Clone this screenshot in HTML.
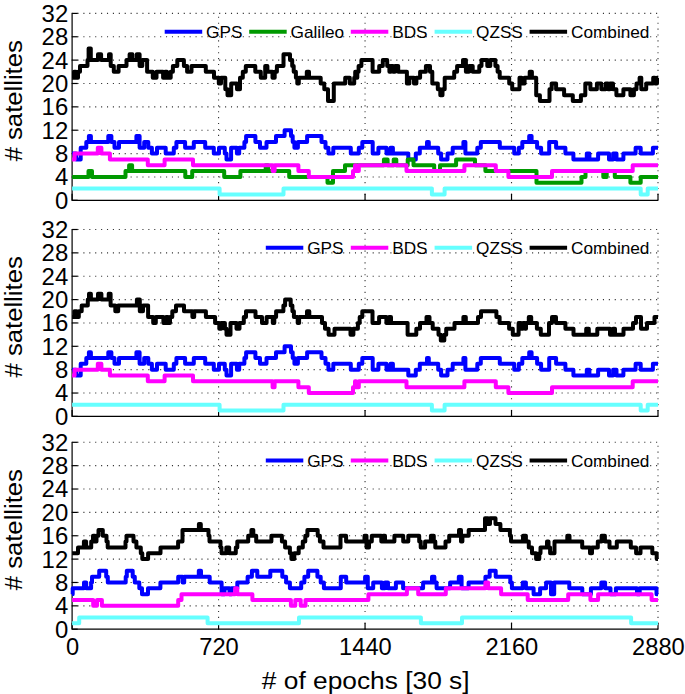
<!DOCTYPE html><html><head><meta charset="utf-8"><style>html,body{margin:0;padding:0;background:#fff;}body{width:685px;height:694px;overflow:hidden;}svg{display:block;}text{font-family:"Liberation Sans", sans-serif;fill:#000;}</style></head><body><svg width="685" height="694" viewBox="0 0 685 694"><g><line x1="71.55" y1="176.94" x2="658" y2="176.94" stroke="#333" stroke-width="1.1" stroke-dasharray="1.1 4.804"/><line x1="71.55" y1="153.58" x2="658" y2="153.58" stroke="#333" stroke-width="1.1" stroke-dasharray="1.1 4.804"/><line x1="71.55" y1="130.21" x2="658" y2="130.21" stroke="#333" stroke-width="1.1" stroke-dasharray="1.1 4.804"/><line x1="71.55" y1="106.85" x2="658" y2="106.85" stroke="#333" stroke-width="1.1" stroke-dasharray="1.1 4.804"/><line x1="71.55" y1="83.49" x2="658" y2="83.49" stroke="#333" stroke-width="1.1" stroke-dasharray="1.1 4.804"/><line x1="71.55" y1="60.12" x2="658" y2="60.12" stroke="#333" stroke-width="1.1" stroke-dasharray="1.1 4.804"/><line x1="71.55" y1="36.76" x2="658" y2="36.76" stroke="#333" stroke-width="1.1" stroke-dasharray="1.1 4.804"/><line x1="71.55" y1="13.4" x2="658" y2="13.4" stroke="#333" stroke-width="1.1" stroke-dasharray="1.1 4.804"/><line x1="218.57" y1="200.85" x2="218.57" y2="13.4" stroke="#333" stroke-width="1.1" stroke-dasharray="1.1 4.804"/><line x1="365.05" y1="200.85" x2="365.05" y2="13.4" stroke="#333" stroke-width="1.1" stroke-dasharray="1.1 4.804"/><line x1="511.52" y1="200.85" x2="511.52" y2="13.4" stroke="#333" stroke-width="1.1" stroke-dasharray="1.1 4.804"/><line x1="658" y1="200.85" x2="658" y2="13.4" stroke="#333" stroke-width="1.1" stroke-dasharray="1.1 4.804"/></g><path d="M72.1 13.4 V200.3 H658" fill="none" stroke="#000" stroke-width="1.2"/><line x1="72.1" y1="200.3" x2="77.7" y2="200.3" stroke="#000" stroke-width="1.2"/><line x1="72.1" y1="176.94" x2="77.7" y2="176.94" stroke="#000" stroke-width="1.2"/><line x1="72.1" y1="153.58" x2="77.7" y2="153.58" stroke="#000" stroke-width="1.2"/><line x1="72.1" y1="130.21" x2="77.7" y2="130.21" stroke="#000" stroke-width="1.2"/><line x1="72.1" y1="106.85" x2="77.7" y2="106.85" stroke="#000" stroke-width="1.2"/><line x1="72.1" y1="83.49" x2="77.7" y2="83.49" stroke="#000" stroke-width="1.2"/><line x1="72.1" y1="60.12" x2="77.7" y2="60.12" stroke="#000" stroke-width="1.2"/><line x1="72.1" y1="36.76" x2="77.7" y2="36.76" stroke="#000" stroke-width="1.2"/><line x1="72.1" y1="13.4" x2="77.7" y2="13.4" stroke="#000" stroke-width="1.2"/><line x1="72.1" y1="200.3" x2="72.1" y2="193.8" stroke="#000" stroke-width="1.2"/><line x1="218.57" y1="200.3" x2="218.57" y2="193.8" stroke="#000" stroke-width="1.2"/><line x1="365.05" y1="200.3" x2="365.05" y2="193.8" stroke="#000" stroke-width="1.2"/><line x1="511.52" y1="200.3" x2="511.52" y2="193.8" stroke="#000" stroke-width="1.2"/><line x1="658" y1="200.3" x2="658" y2="193.8" stroke="#000" stroke-width="1.2"/><path d="M72.1 153.58H76.1V159.42H80.7V147.73H86.3V141.89H88.9V136.05H90.9V141.89H108.3V136.05H111.4V141.89H114.5V147.73H119.0V141.89H136.4V136.05H139.6V147.73H144.2V141.89H148.3V147.73H151.9V153.58H157.0V147.73H165.7V153.58H173.8V147.73H176.4V141.89H185.1V147.73H193.8V141.89H205.2V147.73H213.8V153.58H219.0V147.73H224.8V153.58H226.5V159.42H231.1V147.73H236.9V153.58H239.2V147.73H244.4V141.89H246.1V136.05H255.4V141.89H260.0V147.73H266.5V141.89H276.0V136.05H284.6V130.21H291.0V136.05H292.7V141.89H294.4V147.73H297.9V141.89H307.1V136.05H321.5V141.89H325.5V147.73H328.4V153.58H333.3V147.73H350.8V153.58H358.8V147.73H362.3V141.89H372.7V153.58H378.4V147.73H386.5V153.58H390.5V147.73H392.9V153.58H408.3V159.42H415.8V153.58H419.8V147.73H427.0V141.89H428.8V147.73H438.2V153.58H441.1V159.42H447.5V153.58H452.7V147.73H463.4V141.89H465.4V153.58H477.3V147.73H480.8V141.89H499.8V147.73H514.2V153.58H518.8V147.73H522.3V141.89H529.2V136.05H531.6V141.89H537.1V147.73H541.1V153.58H549.2V141.89H556.1V147.73H565.4V153.58H573.4V159.42H586.8V153.58H589.4V159.42H598.1V153.58H609.0V159.42H613.1V153.58H616.5V159.42H623.4V153.58H635.6V147.73H640.7V153.58H652.9V147.73H658.0" fill="none" stroke="#0000ff" stroke-width="4" stroke-linejoin="round" stroke-linecap="butt"/><path d="M72.1 176.94H88.5V171.10H92.0V176.94H125.5V171.10H129.1V165.26H132.1V171.10H185.3V176.94H192.2V171.10H224.2V176.94H240.4V171.10H265.7V165.26H268.0V171.10H289.2V176.94H327.5V182.78H333.0V171.10H345.0V165.26H383.9V159.42H387.6V165.26H393.7V159.42H396.3V165.26H407.7V159.42H413.5V165.26H434.2V171.10H440.0V165.26H456.1V159.42H475.0V165.26H485.4V171.10H536.5V182.78H581.5V176.94H585.5V171.10H603.3V176.94H606.7V171.10H614.8V176.94H630.4V182.78H640.7V176.94H658.0" fill="none" stroke="#009900" stroke-width="4" stroke-linejoin="round" stroke-linecap="butt"/><path d="M72.1 159.42H74.6V153.58H97.8V147.73H101.4V153.58H109.9V159.42H147.8V165.26H164.6V159.42H193.0V165.26H272.6V171.10H274.6V165.26H298.4V171.10H308.8V176.94H353.0V171.10H355.0V165.26H356.0V171.10H358.8V165.26H406.5V171.10H464.4V165.26H495.8V171.10H508.4V176.94H552.0V171.10H632.7V165.26H658.0" fill="none" stroke="#ff00ff" stroke-width="4" stroke-linejoin="round" stroke-linecap="butt"/><path d="M72.1 188.62H219.6V194.46H283.5V188.62H431.9V194.46H444.6V188.62H640.7V194.46H647.7V188.62H658.0" fill="none" stroke="#66ffff" stroke-width="4" stroke-linejoin="round" stroke-linecap="butt"/><path d="M72.1 77.65H74.0V71.81H76.0V77.65H78.0V71.81H80.0V65.97H87.5V60.12H88.6V48.44H90.8V60.12H98.0V54.28H101.1V60.12H109.0V54.28H110.7V65.97H113.8V71.81H118.6V65.97H126.5V60.12H129.6V54.28H132.4V60.12H136.8V54.28H139.6V65.97H142.3V60.12H147.1V71.81H152.8V77.65H156.5V71.81H163.1V77.65H165.0V71.81H167.0V77.65H170.7V71.81H172.9V65.97H177.3V60.12H183.9V65.97H187.1V71.81H191.5V65.97H205.8V71.81H214.0V77.65H218.8V83.49H221.0V77.65H225.3V89.33H227.5V95.17H231.2V83.49H237.0V89.33H240.0V77.65H242.8V71.81H245.8V65.97H255.3V71.81H260.8V77.65H265.2V65.97H267.4V71.81H272.5V77.65H274.7V71.81H276.9V65.97H283.5V54.28H290.0V60.12H292.2V65.97H293.7V71.81H295.9V77.65H297.3V83.49H298.8V77.65H306.8V71.81H309.0V77.65H320.7V83.49H324.3V89.33H328.0V101.01H333.8V83.49H345.2V77.65H349.8V83.49H354.2V77.65H355.2V71.81H356.2V77.65H357.3V71.81H358.6V65.97H361.4V60.12H372.6V71.81H379.2V65.97H382.8V60.12H387.2V65.97H389.4V71.81H391.0V65.97H393.0V71.81H395.0V65.97H398.2V71.81H406.9V83.49H409.4V77.65H414.0V83.49H416.4V77.65H420.1V71.81H425.9V65.97H430.0V71.81H432.3V83.49H437.8V89.33H440.3V95.17H442.5V89.33H444.7V77.65H454.2V71.81H457.1V65.97H463.0V60.12H465.9V71.81H469.0V65.97H472.7V71.81H479.3V65.97H481.5V60.12H487.3V65.97H490.3V60.12H495.4V65.97H497.6V71.81H499.7V77.65H509.2V83.49H512.2V89.33H519.5V77.65H521.6V83.49H524.6V77.65H529.7V71.81H531.9V77.65H536.2V95.17H539.9V101.01H549.5V89.33H551.7V83.49H556.1V89.33H564.1V95.17H572.8V101.01H580.9V95.17H585.3V83.49H590.4V89.33H596.9V83.49H601.3V89.33H605.7V83.49H608.0V89.33H610.0V83.49H613.0V89.33H616.4V95.17H623.4V89.33H630.4V95.17H633.9V89.33H636.5V83.49H639.6V77.65H641.3V89.33H646.2V83.49H653.2V77.65H655.0V83.49H657.0V77.65H658.0" fill="none" stroke="#000000" stroke-width="4" stroke-linejoin="round" stroke-linecap="butt"/><text transform="translate(68.2 208.75) scale(1.04 1)" font-size="23" text-anchor="end">0</text><text transform="translate(68.2 185.39) scale(1.04 1)" font-size="23" text-anchor="end">4</text><text transform="translate(68.2 162.03) scale(1.04 1)" font-size="23" text-anchor="end">8</text><text transform="translate(68.2 138.66) scale(1.04 1)" font-size="23" text-anchor="end">12</text><text transform="translate(68.2 115.3) scale(1.04 1)" font-size="23" text-anchor="end">16</text><text transform="translate(68.2 91.94) scale(1.04 1)" font-size="23" text-anchor="end">20</text><text transform="translate(68.2 68.58) scale(1.04 1)" font-size="23" text-anchor="end">24</text><text transform="translate(68.2 45.21) scale(1.04 1)" font-size="23" text-anchor="end">28</text><text transform="translate(68.2 21.85) scale(1.04 1)" font-size="23" text-anchor="end">32</text><text transform="translate(22.4 100.75) rotate(-90) scale(1.035 1)" font-size="24.8" text-anchor="middle"># satellites</text><line x1="164.7" y1="31.7" x2="202.2" y2="31.7" stroke="#0000ff" stroke-width="4"/><text transform="translate(206.1 37.6) scale(1.05 1)" font-size="16.4">GPS</text><line x1="249.2" y1="31.7" x2="286.7" y2="31.7" stroke="#009900" stroke-width="4"/><text transform="translate(290.6 37.6) scale(1.05 1)" font-size="16.4">Galileo</text><line x1="350.8" y1="31.7" x2="388.3" y2="31.7" stroke="#ff00ff" stroke-width="4"/><text transform="translate(392.2 37.6) scale(1.05 1)" font-size="16.4">BDS</text><line x1="434.6" y1="31.7" x2="472.1" y2="31.7" stroke="#66ffff" stroke-width="4"/><text transform="translate(476 37.6) scale(1.05 1)" font-size="16.4">QZSS</text><line x1="529.6" y1="31.7" x2="567.1" y2="31.7" stroke="#000000" stroke-width="4"/><text transform="translate(571 37.6) scale(1.05 1)" font-size="16.4">Combined</text><g><line x1="71.55" y1="393.04" x2="658" y2="393.04" stroke="#333" stroke-width="1.1" stroke-dasharray="1.1 4.804"/><line x1="71.55" y1="369.67" x2="658" y2="369.67" stroke="#333" stroke-width="1.1" stroke-dasharray="1.1 4.804"/><line x1="71.55" y1="346.31" x2="658" y2="346.31" stroke="#333" stroke-width="1.1" stroke-dasharray="1.1 4.804"/><line x1="71.55" y1="322.95" x2="658" y2="322.95" stroke="#333" stroke-width="1.1" stroke-dasharray="1.1 4.804"/><line x1="71.55" y1="299.59" x2="658" y2="299.59" stroke="#333" stroke-width="1.1" stroke-dasharray="1.1 4.804"/><line x1="71.55" y1="276.23" x2="658" y2="276.23" stroke="#333" stroke-width="1.1" stroke-dasharray="1.1 4.804"/><line x1="71.55" y1="252.86" x2="658" y2="252.86" stroke="#333" stroke-width="1.1" stroke-dasharray="1.1 4.804"/><line x1="71.55" y1="229.5" x2="658" y2="229.5" stroke="#333" stroke-width="1.1" stroke-dasharray="1.1 4.804"/><line x1="218.57" y1="416.95" x2="218.57" y2="229.5" stroke="#333" stroke-width="1.1" stroke-dasharray="1.1 4.804"/><line x1="365.05" y1="416.95" x2="365.05" y2="229.5" stroke="#333" stroke-width="1.1" stroke-dasharray="1.1 4.804"/><line x1="511.52" y1="416.95" x2="511.52" y2="229.5" stroke="#333" stroke-width="1.1" stroke-dasharray="1.1 4.804"/><line x1="658" y1="416.95" x2="658" y2="229.5" stroke="#333" stroke-width="1.1" stroke-dasharray="1.1 4.804"/></g><path d="M72.1 229.5 V416.4 H658" fill="none" stroke="#000" stroke-width="1.2"/><line x1="72.1" y1="416.4" x2="77.7" y2="416.4" stroke="#000" stroke-width="1.2"/><line x1="72.1" y1="393.04" x2="77.7" y2="393.04" stroke="#000" stroke-width="1.2"/><line x1="72.1" y1="369.67" x2="77.7" y2="369.67" stroke="#000" stroke-width="1.2"/><line x1="72.1" y1="346.31" x2="77.7" y2="346.31" stroke="#000" stroke-width="1.2"/><line x1="72.1" y1="322.95" x2="77.7" y2="322.95" stroke="#000" stroke-width="1.2"/><line x1="72.1" y1="299.59" x2="77.7" y2="299.59" stroke="#000" stroke-width="1.2"/><line x1="72.1" y1="276.23" x2="77.7" y2="276.23" stroke="#000" stroke-width="1.2"/><line x1="72.1" y1="252.86" x2="77.7" y2="252.86" stroke="#000" stroke-width="1.2"/><line x1="72.1" y1="229.5" x2="77.7" y2="229.5" stroke="#000" stroke-width="1.2"/><line x1="72.1" y1="416.4" x2="72.1" y2="409.9" stroke="#000" stroke-width="1.2"/><line x1="218.57" y1="416.4" x2="218.57" y2="409.9" stroke="#000" stroke-width="1.2"/><line x1="365.05" y1="416.4" x2="365.05" y2="409.9" stroke="#000" stroke-width="1.2"/><line x1="511.52" y1="416.4" x2="511.52" y2="409.9" stroke="#000" stroke-width="1.2"/><line x1="658" y1="416.4" x2="658" y2="409.9" stroke="#000" stroke-width="1.2"/><path d="M72.1 369.67H76.1V375.52H80.7V363.83H86.3V357.99H88.9V352.15H90.9V357.99H108.3V352.15H111.4V357.99H114.5V363.83H119.0V357.99H136.4V352.15H139.6V363.83H144.2V357.99H148.3V363.83H151.9V369.67H157.0V363.83H165.7V369.67H173.8V363.83H176.4V357.99H185.1V363.83H193.8V357.99H205.2V363.83H213.8V369.67H219.0V363.83H224.8V369.67H226.5V375.52H231.1V363.83H236.9V369.67H239.2V363.83H244.4V357.99H246.1V352.15H255.4V357.99H260.0V363.83H266.5V357.99H276.0V352.15H284.6V346.31H291.0V352.15H292.7V357.99H294.4V363.83H297.9V357.99H307.1V352.15H321.5V357.99H325.5V363.83H328.4V369.67H333.3V363.83H350.8V369.67H358.8V363.83H362.3V357.99H372.7V369.67H378.4V363.83H386.5V369.67H390.5V363.83H392.9V369.67H408.3V375.52H415.8V369.67H419.8V363.83H427.0V357.99H428.8V363.83H438.2V369.67H441.1V375.52H447.5V369.67H452.7V363.83H463.4V357.99H465.4V369.67H477.3V363.83H480.8V357.99H499.8V363.83H514.2V369.67H518.8V363.83H522.3V357.99H529.2V352.15H531.6V357.99H537.1V363.83H541.1V369.67H549.2V357.99H556.1V363.83H565.4V369.67H573.4V375.52H586.8V369.67H589.4V375.52H598.1V369.67H609.0V375.52H613.1V369.67H616.5V375.52H623.4V369.67H635.6V363.83H640.7V369.67H652.9V363.83H658.0" fill="none" stroke="#0000ff" stroke-width="4" stroke-linejoin="round" stroke-linecap="butt"/><path d="M72.1 375.52H74.6V369.67H97.8V363.83H101.4V369.67H109.9V375.52H147.8V381.36H164.6V375.52H193.0V381.36H272.6V387.20H274.6V381.36H298.4V387.20H308.8V393.04H353.0V387.20H355.0V381.36H356.0V387.20H358.8V381.36H406.5V387.20H464.4V381.36H495.8V387.20H508.4V393.04H552.0V387.20H632.7V381.36H658.0" fill="none" stroke="#ff00ff" stroke-width="4" stroke-linejoin="round" stroke-linecap="butt"/><path d="M72.1 404.72H219.6V410.56H283.5V404.72H431.9V410.56H444.6V404.72H640.7V410.56H647.7V404.72H658.0" fill="none" stroke="#66ffff" stroke-width="4" stroke-linejoin="round" stroke-linecap="butt"/><path d="M72.1 317.11H74.4V311.27H76.6V317.11H78.8V311.27H81.7V305.43H87.8V299.59H89.0V293.75H90.9V299.59H98.0V293.75H101.4V299.59H108.7V293.75H110.6V305.43H115.3V311.27H118.2V305.43H136.9V299.59H139.8V311.27H143.0V305.43H148.1V317.11H153.2V322.95H155.8V317.11H163.4V322.95H166.0V317.11H168.0V322.95H170.0V317.11H172.3V311.27H176.0V305.43H184.0V311.27H192.4V317.11H194.2V311.27H205.9V317.11H215.1V322.95H219.3V328.79H221.2V322.95H224.9V328.79H226.5V334.63H230.5V322.95H236.5V328.79H239.5V322.95H243.8V317.11H246.0V311.27H255.5V317.11H262.0V322.95H266.6V317.11H272.8V322.95H274.3V317.11H276.1V311.27H283.4V305.43H285.1V299.59H290.7V305.43H292.4V311.27H293.9V317.11H297.7V322.95H299.1V317.11H307.0V311.27H309.3V317.11H322.0V322.95H325.0V328.79H328.6V334.63H334.5V328.79H350.5V334.63H353.4V328.79H357.9V322.95H359.7V317.11H362.3V311.27H372.5V322.95H379.1V317.11H386.4V322.95H389.0V317.11H391.0V322.95H407.6V334.63H416.3V328.79H420.0V322.95H426.5V317.11H429.5V322.95H432.7V328.79H438.5V334.63H440.8V340.47H444.3V334.63H446.2V328.79H454.5V322.95H463.4V317.11H465.8V322.95H478.0V317.11H481.0V311.27H496.4V317.11H499.6V322.95H509.1V328.79H512.8V334.63H518.6V322.95H521.0V328.79H523.0V322.95H525.0V328.79H526.0V322.95H528.8V317.11H531.2V322.95H536.9V328.79H540.8V334.63H549.0V322.95H552.0V317.11H556.0V322.95H565.4V328.79H573.5V334.63H586.2V328.79H588.8V334.63H597.3V328.79H610.0V334.63H613.0V328.79H615.0V334.63H623.5V328.79H633.0V322.95H636.0V317.11H641.0V328.79H647.0V322.95H654.5V317.11H658.0" fill="none" stroke="#000000" stroke-width="4" stroke-linejoin="round" stroke-linecap="butt"/><text transform="translate(68.2 424.85) scale(1.04 1)" font-size="23" text-anchor="end">0</text><text transform="translate(68.2 401.49) scale(1.04 1)" font-size="23" text-anchor="end">4</text><text transform="translate(68.2 378.12) scale(1.04 1)" font-size="23" text-anchor="end">8</text><text transform="translate(68.2 354.76) scale(1.04 1)" font-size="23" text-anchor="end">12</text><text transform="translate(68.2 331.4) scale(1.04 1)" font-size="23" text-anchor="end">16</text><text transform="translate(68.2 308.04) scale(1.04 1)" font-size="23" text-anchor="end">20</text><text transform="translate(68.2 284.68) scale(1.04 1)" font-size="23" text-anchor="end">24</text><text transform="translate(68.2 261.31) scale(1.04 1)" font-size="23" text-anchor="end">28</text><text transform="translate(68.2 237.95) scale(1.04 1)" font-size="23" text-anchor="end">32</text><text transform="translate(22.4 316.85) rotate(-90) scale(1.035 1)" font-size="24.8" text-anchor="middle"># satellites</text><line x1="265.8" y1="247.8" x2="303.3" y2="247.8" stroke="#0000ff" stroke-width="4"/><text transform="translate(307.2 253.7) scale(1.05 1)" font-size="16.4">GPS</text><line x1="350.8" y1="247.8" x2="388.3" y2="247.8" stroke="#ff00ff" stroke-width="4"/><text transform="translate(392.2 253.7) scale(1.05 1)" font-size="16.4">BDS</text><line x1="434.6" y1="247.8" x2="472.1" y2="247.8" stroke="#66ffff" stroke-width="4"/><text transform="translate(476 253.7) scale(1.05 1)" font-size="16.4">QZSS</text><line x1="529.6" y1="247.8" x2="567.1" y2="247.8" stroke="#000000" stroke-width="4"/><text transform="translate(571 253.7) scale(1.05 1)" font-size="16.4">Combined</text><g><line x1="71.55" y1="605.84" x2="658" y2="605.84" stroke="#333" stroke-width="1.1" stroke-dasharray="1.1 4.804"/><line x1="71.55" y1="582.48" x2="658" y2="582.48" stroke="#333" stroke-width="1.1" stroke-dasharray="1.1 4.804"/><line x1="71.55" y1="559.11" x2="658" y2="559.11" stroke="#333" stroke-width="1.1" stroke-dasharray="1.1 4.804"/><line x1="71.55" y1="535.75" x2="658" y2="535.75" stroke="#333" stroke-width="1.1" stroke-dasharray="1.1 4.804"/><line x1="71.55" y1="512.39" x2="658" y2="512.39" stroke="#333" stroke-width="1.1" stroke-dasharray="1.1 4.804"/><line x1="71.55" y1="489.03" x2="658" y2="489.03" stroke="#333" stroke-width="1.1" stroke-dasharray="1.1 4.804"/><line x1="71.55" y1="465.66" x2="658" y2="465.66" stroke="#333" stroke-width="1.1" stroke-dasharray="1.1 4.804"/><line x1="71.55" y1="442.3" x2="658" y2="442.3" stroke="#333" stroke-width="1.1" stroke-dasharray="1.1 4.804"/><line x1="218.57" y1="629.75" x2="218.57" y2="442.3" stroke="#333" stroke-width="1.1" stroke-dasharray="1.1 4.804"/><line x1="365.05" y1="629.75" x2="365.05" y2="442.3" stroke="#333" stroke-width="1.1" stroke-dasharray="1.1 4.804"/><line x1="511.52" y1="629.75" x2="511.52" y2="442.3" stroke="#333" stroke-width="1.1" stroke-dasharray="1.1 4.804"/><line x1="658" y1="629.75" x2="658" y2="442.3" stroke="#333" stroke-width="1.1" stroke-dasharray="1.1 4.804"/></g><path d="M72.1 442.3 V629.2 H658" fill="none" stroke="#000" stroke-width="1.2"/><line x1="72.1" y1="629.2" x2="77.7" y2="629.2" stroke="#000" stroke-width="1.2"/><line x1="72.1" y1="605.84" x2="77.7" y2="605.84" stroke="#000" stroke-width="1.2"/><line x1="72.1" y1="582.48" x2="77.7" y2="582.48" stroke="#000" stroke-width="1.2"/><line x1="72.1" y1="559.11" x2="77.7" y2="559.11" stroke="#000" stroke-width="1.2"/><line x1="72.1" y1="535.75" x2="77.7" y2="535.75" stroke="#000" stroke-width="1.2"/><line x1="72.1" y1="512.39" x2="77.7" y2="512.39" stroke="#000" stroke-width="1.2"/><line x1="72.1" y1="489.03" x2="77.7" y2="489.03" stroke="#000" stroke-width="1.2"/><line x1="72.1" y1="465.66" x2="77.7" y2="465.66" stroke="#000" stroke-width="1.2"/><line x1="72.1" y1="442.3" x2="77.7" y2="442.3" stroke="#000" stroke-width="1.2"/><line x1="72.1" y1="629.2" x2="72.1" y2="622.7" stroke="#000" stroke-width="1.2"/><line x1="218.57" y1="629.2" x2="218.57" y2="622.7" stroke="#000" stroke-width="1.2"/><line x1="365.05" y1="629.2" x2="365.05" y2="622.7" stroke="#000" stroke-width="1.2"/><line x1="511.52" y1="629.2" x2="511.52" y2="622.7" stroke="#000" stroke-width="1.2"/><line x1="658" y1="629.2" x2="658" y2="622.7" stroke="#000" stroke-width="1.2"/><path d="M72.1 594.16H72.7V588.32H84.0V582.48H86.2V588.32H91.1V582.48H92.0V576.63H99.2V570.79H106.2V576.63H107.8V582.48H125.7V576.63H126.8V570.79H132.7V576.63H134.8V582.48H139.3V588.32H142.0V594.16H148.0V588.32H160.4V582.48H178.2V576.63H182.6V582.48H184.2V576.63H198.8V570.79H201.0V576.63H209.7V582.48H221.6V594.16H224.5V588.32H229.5V594.16H231.5V588.32H237.3V582.48H247.6V576.63H251.9V570.79H257.3V576.63H270.3V570.79H282.3V576.63H286.1V582.48H289.9V588.32H301.2V582.48H304.4V576.63H308.2V570.79H317.4V576.63H320.7V582.48H323.9V588.32H340.8V576.63H346.2V582.48H365.1V576.63H367.8V588.32H373.2V582.48H381.9V588.32H385.0V582.48H388.0V588.32H395.9V582.48H403.1V588.32H423.1V582.48H432.0V576.63H434.4V582.48H436.6V588.32H450.1V582.48H458.8V576.63H461.6V588.32H468.6V582.48H485.4V576.63H489.7V570.79H495.7V576.63H510.3V582.48H511.9V588.32H522.7V582.48H525.9V588.32H533.6V594.16H540.1V588.32H546.1V582.48H551.0V594.16H554.2V582.48H569.3V588.32H582.3V594.16H590.9V588.32H601.3V582.48H605.1V588.32H610.5V594.16H615.9V588.32H637.0V594.16H639.7V588.32H656.5V594.16H658.0" fill="none" stroke="#0000ff" stroke-width="4" stroke-linejoin="round" stroke-linecap="butt"/><path d="M72.1 600.00H93.2V605.84H97.0V600.00H101.9V605.84H178.2V600.00H181.5V594.16H235.1V588.32H237.3V594.16H252.4V600.00H290.9V605.84H295.3V600.00H300.7V605.84H305.5V600.00H368.4V594.16H406.9V588.32H418.2V594.16H445.8V588.32H485.4V582.48H488.1V588.32H501.1V594.16H527.7V600.00H568.2V594.16H590.4V600.00H598.1V594.16H651.6V600.00H658.0" fill="none" stroke="#ff00ff" stroke-width="4" stroke-linejoin="round" stroke-linecap="butt"/><path d="M72.1 623.36H79.2V617.52H207.6V623.36H299.0V617.52H420.9V623.36H462.0V617.52H631.1V623.36H658.0" fill="none" stroke="#66ffff" stroke-width="4" stroke-linejoin="round" stroke-linecap="butt"/><path d="M72.1 553.27H78.0V547.43H83.9V541.59H86.1V547.43H91.2V541.59H93.0V535.75H95.0V541.59H96.5V535.75H98.5V529.91H102.8V535.75H106.5V541.59H107.7V547.43H125.5V541.59H126.5V535.75H133.5V541.59H136.4V547.43H140.8V553.27H142.3V559.11H148.1V553.27H160.5V547.43H178.1V541.59H182.5V529.91H198.9V524.07H200.8V529.91H208.5V535.75H209.5V541.59H220.5V547.43H221.5V553.27H226.3V547.43H229.2V553.27H235.8V547.43H237.3V541.59H248.2V535.75H251.4V529.91H253.3V535.75H256.2V541.59H271.4V535.75H281.9V541.59H285.1V547.43H289.9V553.27H291.4V559.11H294.3V553.27H298.7V547.43H302.8V541.59H305.3V535.75H307.4V529.91H317.7V535.75H319.9V541.59H323.5V547.43H340.5V535.75H346.1V541.59H364.5V535.75H366.5V547.43H369.0V541.59H371.8V535.75H381.3V541.59H383.0V535.75H385.0V541.59H394.4V535.75H403.2V541.59H408.3V535.75H419.2V541.59H420.7V547.43H425.1V541.59H430.9V535.75H433.8V541.59H435.3V547.43H445.5V541.59H449.2V535.75H459.0V529.91H461.0V541.59H462.4V535.75H468.7V529.91H485.0V518.23H488.0V524.07H490.0V518.23H495.5V524.07H500.4V529.91H509.9V535.75H511.0V541.59H523.0V535.75H525.9V541.59H528.8V547.43H532.0V553.27H536.1V559.11H539.3V553.27H540.5V547.43H547.0V541.59H548.5V547.43H550.1V553.27H554.5V541.59H567.3V535.75H569.5V541.59H582.2V547.43H590.0V553.27H592.0V547.43H597.8V541.59H601.6V535.75H604.9V541.59H609.5V547.43H616.8V541.59H630.8V547.43H636.1V553.27H640.5V547.43H652.3V553.27H656.7V559.11H658.0" fill="none" stroke="#000000" stroke-width="4" stroke-linejoin="round" stroke-linecap="butt"/><text transform="translate(68.2 637.65) scale(1.04 1)" font-size="23" text-anchor="end">0</text><text transform="translate(68.2 614.29) scale(1.04 1)" font-size="23" text-anchor="end">4</text><text transform="translate(68.2 590.93) scale(1.04 1)" font-size="23" text-anchor="end">8</text><text transform="translate(68.2 567.56) scale(1.04 1)" font-size="23" text-anchor="end">12</text><text transform="translate(68.2 544.2) scale(1.04 1)" font-size="23" text-anchor="end">16</text><text transform="translate(68.2 520.84) scale(1.04 1)" font-size="23" text-anchor="end">20</text><text transform="translate(68.2 497.48) scale(1.04 1)" font-size="23" text-anchor="end">24</text><text transform="translate(68.2 474.11) scale(1.04 1)" font-size="23" text-anchor="end">28</text><text transform="translate(68.2 450.75) scale(1.04 1)" font-size="23" text-anchor="end">32</text><text transform="translate(22.4 529.65) rotate(-90) scale(1.035 1)" font-size="24.8" text-anchor="middle"># satellites</text><line x1="265.8" y1="460.6" x2="303.3" y2="460.6" stroke="#0000ff" stroke-width="4"/><text transform="translate(307.2 466.5) scale(1.05 1)" font-size="16.4">GPS</text><line x1="350.8" y1="460.6" x2="388.3" y2="460.6" stroke="#ff00ff" stroke-width="4"/><text transform="translate(392.2 466.5) scale(1.05 1)" font-size="16.4">BDS</text><line x1="434.6" y1="460.6" x2="472.1" y2="460.6" stroke="#66ffff" stroke-width="4"/><text transform="translate(476 466.5) scale(1.05 1)" font-size="16.4">QZSS</text><line x1="529.6" y1="460.6" x2="567.1" y2="460.6" stroke="#000000" stroke-width="4"/><text transform="translate(571 466.5) scale(1.05 1)" font-size="16.4">Combined</text><text transform="translate(72.5 654.8) scale(1.03 1)" font-size="23" text-anchor="middle">0</text><text transform="translate(218.97 654.8) scale(1.03 1)" font-size="23" text-anchor="middle">720</text><text transform="translate(365.45 654.8) scale(1.03 1)" font-size="23" text-anchor="middle">1440</text><text transform="translate(511.92 654.8) scale(1.03 1)" font-size="23" text-anchor="middle">2160</text><text transform="translate(658.4 654.8) scale(1.03 1)" font-size="23" text-anchor="middle">2880</text><text transform="translate(365.7 689.2) scale(1.07 1)" font-size="24.6" text-anchor="middle"># of epochs [30 s]</text></svg></body></html>
